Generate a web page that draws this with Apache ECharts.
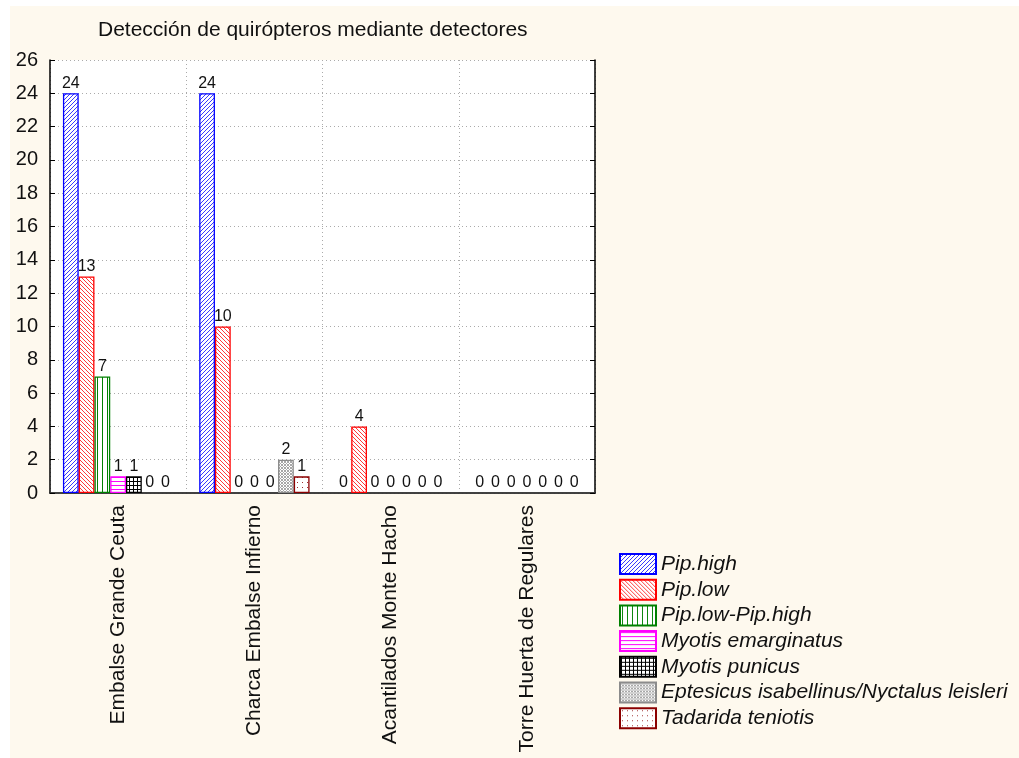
<!DOCTYPE html>
<html>
<head>
<meta charset="utf-8">
<script src="https://cdn.jsdelivr.net/npm/echarts@6/dist/echarts.min.js"></script>
<style>
html,body{margin:0;padding:0;background:#ffffff;}
#chart{width:1019px;height:758px;}
</style>
</head>
<body>
<div id="chart"></div>
<script>
const title = 'Detección de quirópteros mediante detectores';
const categories = ['Embalse Grande Ceuta', 'Charca Embalse Infierno', 'Acantilados Monte Hacho', 'Torre Huerta de Regulares'];
const seriesNames = ['Pip.high', 'Pip.low', 'Pip.low-Pip.high', 'Myotis emarginatus', 'Myotis punicus', 'Eptesicus isabellinus/Nyctalus leisleri', 'Tadarida teniotis'];
const pipHigh = [24, 24, 0, 0];
const pipLow = [13, 10, 4, 0];
const pipLowHigh = [7, 0, 0, 0];
const myotisEmarginatus = [1, 0, 0, 0];
const myotisPunicus = [1, 0, 0, 0];
const eptesicus = [0, 2, 0, 0];
const tadarida = [0, 1, 0, 0];
const yTicks = [0, 2, 4, 6, 8, 10, 12, 14, 16, 18, 20, 22, 24, 26];

const seriesValues = [pipHigh, pipLow, pipLowHigh, myotisEmarginatus, myotisPunicus, eptesicus, tadarida];
const borderColors = ['#0000ff', '#ff0000', '#008000', '#ff00ff', '#000000', '#8c8c8c', '#8b0000'];

function tile(w, h, color, pixels) {
  const c = document.createElement('canvas');
  c.width = w; c.height = h;
  const g = c.getContext('2d');
  g.fillStyle = '#ffffff';
  g.fillRect(0, 0, w, h);
  g.fillStyle = color;
  pixels.forEach(p => g.fillRect(p[0], p[1], p[2] || 1, p[3] || 1));
  return { image: c, repeat: 'repeat' };
}
const patterns = [
  tile(4, 4, '#3a3aff', [[0, 3], [1, 2], [2, 1], [3, 0]]),
  tile(4, 4, '#ff3a3a', [[0, 0], [1, 1], [2, 2], [3, 3]]),
  tile(5, 5, '#008000', [[2, 0, 1, 5]]),
  tile(4, 4, '#ff00ff', [[0, 1, 4, 1]]),
  tile(4, 4, '#000000', [[0, 1, 4, 1], [1, 0, 1, 4]]),
  tile(3, 3, '#a8a8a8', [[0, 0], [2, 0], [1, 1], [0, 2], [2, 2]]),
  tile(5, 5, '#a03030', [[2, 2]])
];

const font = 'Liberation Sans';

const series = seriesNames.map((name, i) => ({
  name: name,
  type: 'bar',
  data: seriesValues[i].map(v => v === 0 ? { value: v, itemStyle: { borderWidth: 0, color: 'rgba(0,0,0,0)' } } : v),
  barGap: '0%',
  barCategoryGap: '19%',
  itemStyle: { color: patterns[i], borderColor: borderColors[i], borderWidth: 1.3 },
  label: { show: true, position: 'top', distance: 2, fontFamily: font, fontSize: 16, color: '#111' },
  emphasis: { disabled: true },
  animation: false
}));

const chart = echarts.init(document.getElementById('chart'), null, { renderer: 'canvas' });
chart.setOption({
  animation: false,
  backgroundColor: '#ffffff',
  graphic: [
    { type: 'rect', left: 10, top: 6, shape: { width: 1009, height: 752 }, style: { fill: '#fef9ee' }, z: -10 },
    { type: 'rect', left: 50, top: 60, shape: { width: 545, height: 433 }, style: { fill: '#ffffff' }, z: -5 }
  ],
  title: {
    text: title, left: 93, top: 15,
    textStyle: { fontFamily: font, fontSize: 21, fontWeight: 'normal', color: '#111' }
  },
  legend: {
    orient: 'vertical', left: 614, top: 548,
    icon: 'rect',
    itemWidth: 36, itemHeight: 20, itemGap: 3.7,
    data: seriesNames,
    textStyle: { fontFamily: font, fontSize: 21, fontStyle: 'italic', color: '#111', padding: [0, 0, 0, 0] },
    selectedMode: false
  },
  grid: { left: 50, top: 60, right: 424, bottom: 265, containLabel: false },
  xAxis: [
    {
      type: 'category', data: categories, position: 'bottom',
      axisLine: { lineStyle: { color: '#000', width: 1.5 } },
      axisTick: { inside: true, length: 5, lineStyle: { color: '#000' } },
      axisLabel: { rotate: 90, margin: 12, fontFamily: font, fontSize: 21, color: '#111' },
      splitLine: { show: true, lineStyle: { type: [1, 3], color: '#aaaaaa' } }
    },
    {
      type: 'category', data: categories, position: 'top',
      axisLine: { lineStyle: { color: '#444', width: 1.5 } },
      axisTick: { inside: true, length: 5, lineStyle: { color: '#000' } },
      axisLabel: { show: false },
      splitLine: { show: false }
    }
  ],
  yAxis: [
    {
      type: 'value', min: 0, max: 26, interval: 2, position: 'left',
      axisLine: { show: true, lineStyle: { color: '#000', width: 1.5 } },
      axisTick: { show: true, inside: true, length: 5, lineStyle: { color: '#000' } },
      axisLabel: { margin: 12, fontFamily: font, fontSize: 20, color: '#111',
        formatter: (v) => yTicks.includes(v) ? String(v) : '' },
      splitLine: { show: true, lineStyle: { type: [1, 3], color: '#aaaaaa' } }
    },
    {
      type: 'value', min: 0, max: 26, interval: 2, position: 'right',
      axisLine: { show: true, lineStyle: { color: '#000', width: 1.5 } },
      axisTick: { show: true, inside: true, length: 5, lineStyle: { color: '#000' } },
      axisLabel: { show: false },
      splitLine: { show: false }
    }
  ],
  series: series
});
</script>
</body>
</html>
